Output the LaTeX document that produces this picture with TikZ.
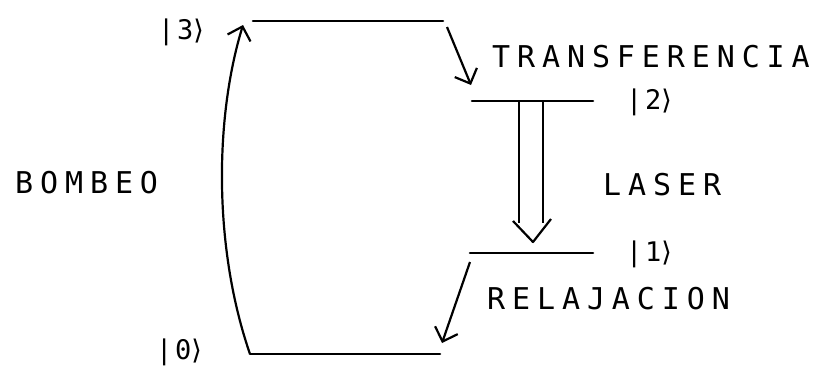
\documentclass[tikz,border=0pt]{standalone}
\usepackage{fontspec}
\newfontfamily\stencil[LetterSpace=23]{DejaVu Sans Mono}
\newfontfamily\ketfont[LetterSpace=10]{DejaVu Sans Mono}
\newfontfamily\bracketfont{DejaVu Sans}
\usetikzlibrary{arrows.meta}
\newcommand{\rket}{{\bracketfont ⟩}}
\tikzset{
  level/.style={line width=2.6pt, line cap=round},
  trans/.style={line width=2.2pt, -{Straight Barb[length=12pt,width=24pt,line width=2.2pt]}},
  label/.style={inner sep=0pt, anchor=west, font=\stencil\fontsize{30}{30}\selectfont},
  ket/.style={inner sep=0pt, anchor=west, font=\ketfont\fontsize{27}{27}\selectfont},
}
\begin{document}
\begin{tikzpicture}[x=1pt,y=-1pt]
  \useasboundingbox (0,0) rectangle (815,368);
  % energy levels
  \coordinate (l3a) at (253,21);  \coordinate (l3b) at (443,21);
  \coordinate (l2a) at (472,101); \coordinate (l2b) at (593,101);
  \coordinate (l1a) at (470,253); \coordinate (l1b) at (593,253);
  \coordinate (l0a) at (250,354); \coordinate (l0b) at (440,354);
  \draw[level] (l3a) -- (l3b);
  \draw[level] (l2a) -- (l2b);
  \draw[level] (l1a) -- (l1b);
  \draw[level] (l0a) -- (l0b);
  % state labels
  \node[ket] (k3) at (158,32) {|3\rket};
  \node[ket] (k2) at (626,102) {|2\rket};
  \node[ket] (k1) at (626,254) {|1\rket};
  \node[ket] (k0) at (156,352) {|0\rket};
  % pumping
  \coordinate (p1) at (243,25);
  \draw[trans] (l0a) .. controls (214,250) and (214,120) .. (p1);
  \node[label] (bombeo) at (15,183) {BOMBEO};
  % transfer 3 -> 2
  \coordinate (t0) at (447,27); \coordinate (t1) at (471,85);
  \draw[trans] (t0) -- (t1);
  \node[label] (transf) at (492,57) {TRANSFERENCIA};
  % laser transition 2 -> 1 (hollow double arrow)
  \coordinate (la) at (519,101); \coordinate (lb) at (543,101);
  \coordinate (lc) at (519,223); \coordinate (ld) at (543,223);
  \coordinate (tip) at (533,242);
  \draw[line width=2.2pt] (la) -- (lc) (lb) -- (ld);
  \draw[line width=2.2pt, line join=round] (513,221) -- (tip) -- (551,219);
  \node[label] (laser) at (603,185) {LASER};
  % relaxation 1 -> 0
  \coordinate (r0) at (470,262); \coordinate (r1) at (442,343);
  \draw[trans] (r0) -- (r1);
  \node[label] (relaj) at (487,299) {RELAJACION};
\end{tikzpicture}
\end{document}
